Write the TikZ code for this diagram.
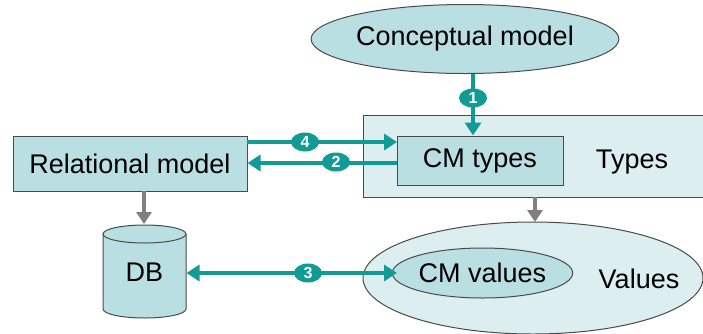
\documentclass[tikz,border=0pt]{standalone}
\usepackage{fontspec}
\setmainfont{Liberation Sans}
\usetikzlibrary{shapes.geometric,arrows.meta}
\definecolor{tealA}{HTML}{129B95}
\definecolor{fillA}{HTML}{B9DFE3}
\definecolor{fillB}{HTML}{DCEEF0}
\definecolor{edgeC}{HTML}{4A4A4A}
\definecolor{grayA}{HTML}{808080}
\tikzset{
  lbl/.style={font=\fontsize{27}{32}\selectfont},
  tealarrow/.style={draw=tealA,line width=3.5pt,-{Triangle[length=13pt,width=16pt]}},
  tealboth/.style={draw=tealA,line width=3.5pt,{Triangle[length=13pt,width=16pt]}-{Triangle[length=13pt,width=16pt]}},
  grayarrow/.style={draw=grayA,line width=3.5pt,-{Triangle[length=12pt,width=15pt]}},
  badge/.style={ellipse,fill=tealA,inner sep=0pt,minimum width=28pt,minimum height=19pt,text=white,font=\fontsize{16}{16}\selectfont\bfseries},
  boxA/.style={draw=edgeC,line width=1pt},
}
\begin{document}
\begin{tikzpicture}[x=1pt,y=-1pt]
\useasboundingbox (0,0) rectangle (703,333);
% Types box
\draw[boxA,fill=fillB] (363,115) rectangle (705,197);
\node[lbl] (typesT) at (632,162) {Types};
\node[draw=edgeC,line width=1pt,fill=fillA,minimum width=166pt,minimum height=49pt,lbl] (cmt) at (480,160.5) {CM types};
% Values ellipse
\node[ellipse,draw=edgeC,line width=1pt,fill=fillB,minimum width=340pt,minimum height=112pt,inner sep=0pt] (vals) at (533,278) {};
\node[lbl] (valT) at (639,279) {Values};
\node[ellipse,draw=edgeC,line width=1pt,fill=fillA,minimum width=171pt,minimum height=50pt,inner sep=0pt,lbl] (cmv) at (482.5,273) {CM values};
% Conceptual model
\node[ellipse,draw=edgeC,line width=1pt,fill=fillA,minimum width=286pt,minimum height=69pt,inner sep=0pt,lbl] (cm) at (465,39) {Conceptual model};
% Relational model
\node[draw=edgeC,line width=1pt,fill=fillA,minimum width=234pt,minimum height=55pt,lbl] (rm) at (130,163.5) {Relational model};
% DB cylinder
\draw[boxA,fill=fillA] (103,234) -- (103,309) arc[start angle=180,end angle=360,x radius=41.5,y radius=-9] -- (186,234) arc[start angle=0,end angle=180,x radius=41.5,y radius=-9] -- cycle;
\draw[boxA] (103,234) arc[start angle=180,end angle=360,x radius=41.5,y radius=-9];
\node[lbl,inner sep=0pt,minimum width=83pt,minimum height=60pt] (db) at (144.5,272) {DB};
% arrows
\coordinate (c1a) at (473,73.5);
\coordinate (c1b) at (473,135.5);
\draw[tealarrow] (c1a) -- (c1b);
\node[badge] (b1) at (473,98) {1};
\coordinate (c4a) at (247,142);
\coordinate (c4b) at (397,142);
\draw[tealarrow] (c4a) -- (c4b);
\node[badge] (b4) at (305,142) {4};
\coordinate (c2a) at (397,163);
\coordinate (c2b) at (247.5,163);
\draw[tealarrow] (c2a) -- (c2b);
\node[badge] (b2) at (336,162) {2};
\coordinate (c3a) at (186.5,273);
\coordinate (c3b) at (397,273);
\draw[tealboth] (c3a) -- (c3b);
\node[badge] (b3) at (308,273) {3};
\coordinate (g1a) at (144,191);
\coordinate (g1b) at (144,224);
\draw[grayarrow] (g1a) -- (g1b);
\coordinate (g2a) at (535,197);
\coordinate (g2b) at (535,222);
\draw[grayarrow] (g2a) -- (g2b);
\end{tikzpicture}
\end{document}
